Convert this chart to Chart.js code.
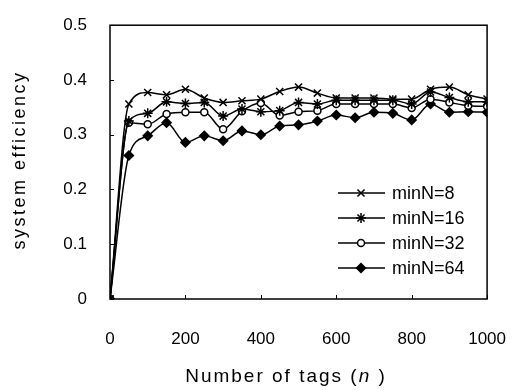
<!DOCTYPE html>
<html>
<head>
<meta charset="utf-8">
<script src="https://cdn.jsdelivr.net/npm/chart.js@4.4.1/dist/chart.umd.min.js"></script>
<style>
  html, body { margin: 0; padding: 0; background: #fff; }
  #chart { display: block; }
</style>
</head>
<body>
<canvas id="chart" width="528" height="390"></canvas>
<script>
// Данные
const tagCounts = [0, 50, 100, 150, 200, 250, 300, 350, 400, 450, 500, 550, 600, 650, 700, 750, 800, 850, 900, 950, 1000];
const minN8  = [0, 0.356, 0.377, 0.373, 0.383, 0.367, 0.359, 0.362, 0.365, 0.379, 0.387, 0.376, 0.367, 0.367, 0.367, 0.365, 0.365, 0.383, 0.387, 0.373, 0.365];
const minN16 = [0, 0.325, 0.339, 0.360, 0.357, 0.359, 0.334, 0.347, 0.342, 0.344, 0.359, 0.356, 0.363, 0.363, 0.363, 0.363, 0.356, 0.378, 0.368, 0.360, 0.360];
const minN32 = [0, 0.322, 0.319, 0.338, 0.341, 0.341, 0.310, 0.343, 0.358, 0.335, 0.342, 0.344, 0.356, 0.356, 0.356, 0.356, 0.349, 0.365, 0.359, 0.353, 0.352];
const minN64 = [0, 0.262, 0.298, 0.322, 0.286, 0.298, 0.289, 0.307, 0.300, 0.316, 0.318, 0.325, 0.336, 0.331, 0.341, 0.339, 0.327, 0.356, 0.341, 0.342, 0.341];
const seriesNames = ['minN=8', 'minN=16', 'minN=32', 'minN=64'];
const xTicks = [0, 200, 400, 600, 800, 1000];
const yTicks = [0, 0.1, 0.2, 0.3, 0.4, 0.5];

const FONT = '"Liberation Sans", Arial, sans-serif';

function toPoints(values) {
    return values.map((v, i) => ({ x: tagCounts[i], y: v }));
}

const styles = [
    { pointStyle: 'crossRot', radius: 5, fill: '#000' },
    { pointStyle: 'star', radius: 5, fill: '#000' },
    { pointStyle: 'circle', radius: 3.5, fill: '#fff' },
    { pointStyle: 'rectRot', radius: 4.5, fill: '#000' }
];

const datasets = [minN8, minN16, minN32, minN64].map((vals, i) => ({
    label: seriesNames[i],
    data: toPoints(vals),
    borderColor: '#000',
    borderWidth: 1.5,
    backgroundColor: styles[i].fill,
    pointStyle: styles[i].pointStyle,
    pointRadius: styles[i].radius,
    pointBorderColor: '#000',
    pointBorderWidth: 1.5,
    pointBackgroundColor: styles[i].fill,
    cubicInterpolationMode: 'monotone',
    fill: false
}));

// Рамка, засечки, легенда и подписи осей
const decorPlugin = {
    id: 'decor',
    afterDraw(chart) {
        const ctx = chart.ctx;
        const a = chart.chartArea;
        const xs = chart.scales.x, ys = chart.scales.y;
        ctx.save();
        ctx.strokeStyle = '#000';
        ctx.lineWidth = 1.5;
        ctx.strokeRect(a.left, a.top, a.right - a.left, a.bottom - a.top);

        ctx.lineWidth = 1;
        ctx.beginPath();
        yTicks.forEach(v => {
            const py = Math.round(ys.getPixelForValue(v)) + 0.5;
            ctx.moveTo(a.left, py); ctx.lineTo(a.left + 4, py);
        });
        xTicks.forEach(v => {
            const px = Math.round(xs.getPixelForValue(v)) + 0.5;
            ctx.moveTo(px, a.bottom); ctx.lineTo(px, a.bottom - 4);
        });
        ctx.stroke();

        // легенда
        ctx.font = '18px ' + FONT;
        ctx.fillStyle = '#000';
        ctx.textBaseline = 'middle';
        ctx.textAlign = 'left';
        seriesNames.forEach((name, i) => {
            const y = 193 + i * 25;
            ctx.strokeStyle = '#000';
            ctx.lineWidth = 1.5;
            ctx.beginPath();
            ctx.moveTo(338, y); ctx.lineTo(385, y);
            ctx.stroke();
            ctx.fillStyle = styles[i].fill;
            Chart.helpers.drawPoint(ctx, {
                pointStyle: styles[i].pointStyle,
                radius: styles[i].radius,
                borderWidth: 1.5
            }, 361, y);
            ctx.fillStyle = '#000';
            ctx.fillText(name, 392, y + 1);
        });

        // подпись оси Y
        ctx.save();
        ctx.translate(20, 160);
        ctx.rotate(-Math.PI / 2);
        ctx.textAlign = 'center';
        ctx.font = '18px ' + FONT;
        ctx.letterSpacing = '2.5px';
        ctx.fillText('system efficiency', 0, 0);
        ctx.restore();

        // подпись оси X с курсивной n
        ctx.letterSpacing = '2px';
        const parts = [
            { t: 'Number of tags (', f: '19px ' + FONT },
            { t: 'n', f: 'italic 19px ' + FONT },
            { t: ' )', f: '19px ' + FONT }
        ];
        let total = 0;
        parts.forEach(p => { ctx.font = p.f; p.w = ctx.measureText(p.t).width; total += p.w; });
        let x = 286 - total / 2;
        ctx.textAlign = 'left';
        parts.forEach(p => { ctx.font = p.f; ctx.fillText(p.t, x, 377); x += p.w; });
        ctx.restore();
    }
};

new Chart(document.getElementById('chart'), {
    type: 'line',
    data: { datasets: datasets },
    options: {
        responsive: false,
        animation: false,
        layout: { padding: { left: 0, top: 24, right: 30, bottom: 0 } },
        plugins: { legend: { display: false }, tooltip: { enabled: false } },
        scales: {
            x: {
                type: 'linear',
                min: 0, max: 1000,
                afterBuildTicks: s => { s.ticks = xTicks.map(v => ({ value: v })); },
                afterFit: s => { s.height = 91; },
                grid: { display: false },
                border: { display: false },
                ticks: {
                    color: '#000', padding: 22, maxRotation: 0, font: { family: FONT, size: 17 },
                    callback: v => String(v)
                }
            },
            y: {
                min: 0, max: 0.5,
                afterBuildTicks: s => { s.ticks = yTicks.map(v => ({ value: v })); },
                afterFit: s => { s.width = 110; },
                grid: { display: false },
                border: { display: false },
                ticks: {
                    color: '#000', padding: 15, font: { family: FONT, size: 17 },
                    callback: v => String(Math.round(v * 10) / 10)
                }
            }
        }
    },
    plugins: [decorPlugin]
});
</script>
</body>
</html>
